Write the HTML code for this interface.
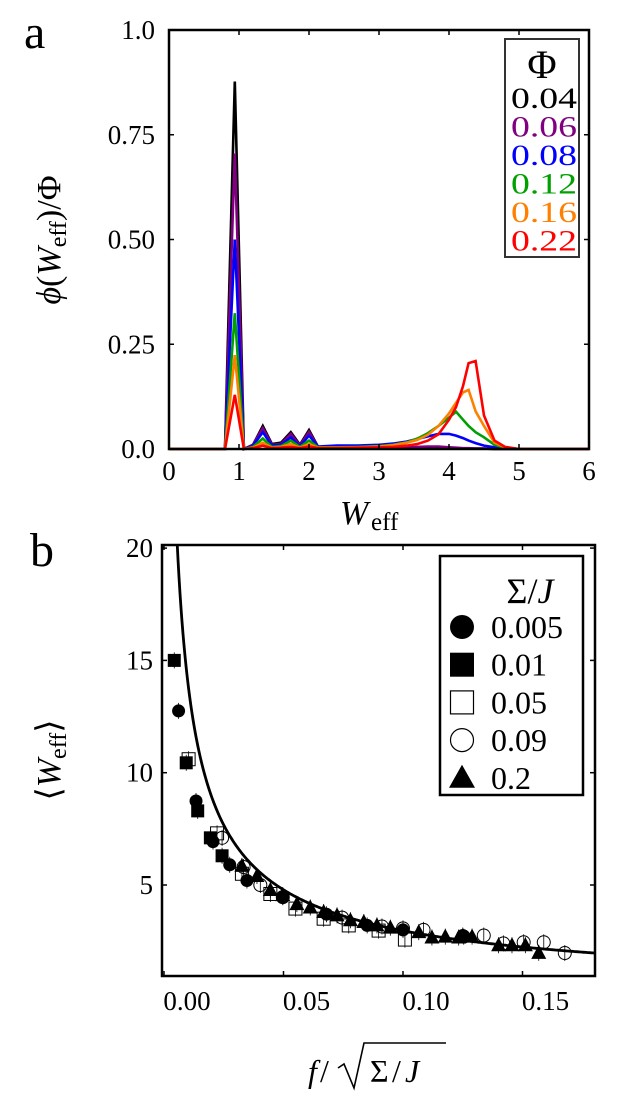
<!DOCTYPE html>
<html><head><meta charset="utf-8"><style>
body{margin:0;background:#fff}
svg text{font-family:"Liberation Serif",serif;fill:#000}
</style></head><body>
<svg id="fig" width="629" height="1101" xmlns="http://www.w3.org/2000/svg">
<text x="24" y="48" font-size="48">a</text>
<text x="30" y="566" font-size="48">b</text>
<g id="pa"></g>
<g id="pb"></g>
</svg>
<script>
// ---- Panel a data ----
const aX = [0,0.8,0.94,1.07,1.2,1.34,1.47,1.6,1.74,1.87,2.0,2.13,2.4,2.7,3.0,3.2,3.4,3.55,3.7,3.85,4.0,4.1,4.2,4.28,4.38,4.5,4.65,4.8,5.0,5.5,6.0];
const aBlack  = [0,0,0.877,0,0.01,0.055,0.012,0.015,0.04,0.01,0.045,0.005,0.003,0.002,0.002,0.002,0.002,0.002,0.002,0.002,0.002,0.002,0.001,0.001,0.001,0.001,0,0,0,0,0];
const aPurple = [0,0,0.705,0,0.01,0.05,0.01,0.012,0.036,0.008,0.041,0.004,0.004,0.003,0.003,0.003,0.004,0.005,0.006,0.006,0.004,0.003,0.002,0.002,0.001,0.001,0,0,0,0,0];
const aBlue   = [0,0,0.50,0,0.008,0.04,0.008,0.01,0.028,0.006,0.032,0.006,0.008,0.008,0.01,0.013,0.018,0.024,0.03,0.036,0.036,0.032,0.026,0.02,0.014,0.008,0.004,0.002,0,0,0];
const aGreen  = [0,0,0.324,0,0.005,0.025,0.005,0.007,0.02,0.005,0.02,0.004,0.004,0.005,0.007,0.01,0.016,0.025,0.038,0.055,0.075,0.089,0.07,0.055,0.04,0.028,0.01,0.003,0,0,0];
const aOrange = [0,0,0.224,0,0.003,0.015,0.003,0.005,0.012,0.003,0.012,0.003,0.003,0.004,0.006,0.009,0.015,0.022,0.034,0.055,0.085,0.11,0.135,0.141,0.09,0.055,0.015,0.004,0,0,0];
const aRed    = [0,0,0.129,0,0.002,0.008,0.002,0.003,0.005,0.002,0.006,0.002,0.002,0.003,0.004,0.005,0.008,0.012,0.02,0.035,0.07,0.1,0.15,0.205,0.21,0.08,0.02,0.005,0,0,0];
const aSeriesNames = ["0.04","0.06","0.08","0.12","0.16","0.22"];
const aXTicks = [0,1,2,3,4,5,6];
const aYTicks = [0,0.25,0.5,0.75,1.0];
const aYTickLabels = ["0.0","0.25","0.50","0.75","1.0"];

// ---- Panel b data ----
const bSq1X = [0.0043,0.0093,0.0141,0.0194,0.0243];
const bSq1Y = [15.0,10.44,8.3,7.1,6.3];
const bCi1X = [0.0061,0.0134,0.0205,0.0275,0.0347,0.0497,0.068,0.085,0.1,0.125];
const bCi1Y = [12.75,8.74,6.93,5.9,5.2,4.46,3.7,3.2,3.0,2.75];
const bSq0X = [0.0103,0.0222,0.0326,0.0445,0.055,0.0668,0.0773,0.0898,0.1008];
const bSq0Y = [10.6,7.3,5.5,4.6,3.95,3.5,3.2,2.97,2.57];
const bCi0X = [0.0243,0.0333,0.0403,0.0497,0.0745,0.0912,0.1,0.1086,0.1254,0.1338,0.142,0.1505,0.1589,0.1677];
const bCi0Y = [7.1,5.8,5.0,4.46,3.55,3.15,3.07,3.0,2.7,2.75,2.4,2.45,2.45,1.97];
const bTriX = [0.0326,0.0389,0.0445,0.0497,0.0556,0.0612,0.0668,0.0724,0.078,0.0836,0.0891,0.0947,0.1066,0.1121,0.1177,0.1233,0.1289,0.14,0.1456,0.1512,0.1568];
const bTriY = [5.85,5.4,4.78,4.55,4.15,4.0,3.8,3.65,3.43,3.35,3.2,3.1,2.9,2.66,2.7,2.66,2.7,2.32,2.32,2.32,1.98];
const bXTicks = [0,0.05,0.10,0.15];
const bXTickLabels = ["0.00","0.05","0.10","0.15"];
const bYTicks = [5,10,15,20];
const bLegendNames = ["0.005","0.01","0.05","0.09","0.2"];

const NS="http://www.w3.org/2000/svg";
function mk(parent,tag,attrs,txt){const e=document.createElementNS(NS,tag);for(const k in attrs)e.setAttribute(k,attrs[k]);if(txt!==undefined)e.textContent=txt;parent.appendChild(e);return e;}

// Panel a
const pa=document.getElementById('pa');
const ax0=169,ax1=589,ay0=449,ay1=30;
const axX=v=>ax0+(v-0)/(6-0)*(ax1-ax0);
const axY=v=>ay0-(v-0)/(1-0)*(ay0-ay1);
const aSeries=[[aBlack,"#000"],[aPurple,"#800080"],[aBlue,"#0000ff"],[aGreen,"#00a000"],[aOrange,"#ff8000"],[aRed,"#ff0000"]];
aSeries.forEach((s,i)=>{
  const p=mk(pa,'polyline',{points:aX.map((x,j)=>axX(x).toFixed(1)+','+axY(s[0][j]).toFixed(1)).join(' '),fill:'none',stroke:s[1],'stroke-width':2.6,'stroke-linejoin':'miter'});
  
  
});
const fa=mk(pa,'rect',{x:ax0,y:ay1,width:ax1-ax0,height:ay0-ay1,fill:'none',stroke:'#000','stroke-width':2.5});

aXTicks.forEach(t=>{
  const x=axX(t);
  mk(pa,'line',{x1:x,y1:ay0,x2:x,y2:ay0-5,stroke:'#000','stroke-width':1.5});
  mk(pa,'line',{x1:x,y1:ay1,x2:x,y2:ay1+5,stroke:'#000','stroke-width':1.5});
  const l=mk(pa,'text',{x:x,y:ay0+31,'font-size':27,'text-anchor':'middle'},String(t));
  
});
aYTicks.forEach((t,i)=>{
  const y=axY(t);
  mk(pa,'line',{x1:ax0,y1:y,x2:ax0+5,y2:y,stroke:'#000','stroke-width':1.5});
  mk(pa,'line',{x1:ax1,y1:y,x2:ax1-5,y2:y,stroke:'#000','stroke-width':1.5});
  const l=mk(pa,'text',{x:155,y:y+9,'font-size':27,'text-anchor':'end'},aYTickLabels[i]);
  
});
let t=mk(pa,'text',{x:340,y:524,'font-size':34,'font-style':'italic'},'W');

mk(pa,'text',{x:371,y:530,'font-size':25},'eff');
t=mk(pa,'text',{x:0,y:0,'font-size':34,transform:'translate(60,240) rotate(-90)','text-anchor':'middle'});

t.innerHTML='<tspan font-style="italic">ϕ</tspan>(<tspan font-style="italic">W</tspan><tspan font-size="24" dy="6">eff</tspan><tspan dy="-6">)/Φ</tspan>';
// legend a
const lga=mk(pa,'g',{});
mk(lga,'rect',{x:505,y:39,width:74,height:218,fill:'#fff',stroke:'#333','stroke-width':2});
mk(lga,'text',{x:542,y:78,'font-size':40,'text-anchor':'middle'},'Φ');
aSeries.forEach((s,i)=>{
  const e=mk(lga,'text',{x:511,y:108+i*28.5,'font-size':30,'textLength':66,'lengthAdjust':'spacingAndGlyphs',fill:s[1],style:'fill:'+s[1]},aSeriesNames[i]);
  
});

// Panel b
const pb=document.getElementById('pb');
const bx0=162,bx1=595,by0=976,by1=545;
const bxX=v=>164+v*2390;
const byY=v=>885-(v-5)*22.46;
const cp=mk(pb,'clipPath',{id:'clipb'});mk(cp,'rect',{x:bx0,y:by1,width:bx1-bx0,height:by0-by1});
// theory curve (analytic)
let pts=[];for(let px=bx0;px<=bx1;px+=1){const x=(px-164)/2390;if(x+0.001<=0)continue;const w=0.596/Math.pow(x+0.001,0.7);pts.push(px+','+byY(w).toFixed(1));}
const cv=mk(pb,'polyline',{points:pts.join(' '),fill:'none',stroke:'#000','stroke-width':2.8,'clip-path':'url(#clipb)'});

function marker(g,type,x,y){
  const cx=bxX(x),cy=byY(y);
  mk(g,'line',{x1:cx,y1:cy-8,x2:cx,y2:cy+8,stroke:'#000','stroke-width':0.8});
  let m;
  if(type==='ci1')m=mk(g,'circle',{cx:cx,cy:cy,r:6.5,fill:'#000'});
  if(type==='ci0')m=mk(g,'circle',{cx:cx,cy:cy,r:6.5,fill:'none',stroke:'#000','stroke-width':1});
  if(type==='sq1')m=mk(g,'rect',{x:cx-6.5,y:cy-6.5,width:13,height:13,fill:'#000'});
  if(type==='sq0')m=mk(g,'rect',{x:cx-6.5,y:cy-6.5,width:13,height:13,fill:'none',stroke:'#000','stroke-width':1});
  if(type==='tri')m=mk(g,'polygon',{points:`${cx},${cy-8} ${cx-7.5},${cy+6} ${cx+7.5},${cy+6}`,fill:'#000'});
  
}
[['sq0',bSq0X,bSq0Y,'0.05'],['ci0',bCi0X,bCi0Y,'0.09'],['sq1',bSq1X,bSq1Y,'0.01'],['ci1',bCi1X,bCi1Y,'0.005'],['tri',bTriX,bTriY,'0.2']].forEach(s=>{
  const g=mk(pb,'g',{});
  
  
  s[1].forEach((x,i)=>marker(g,s[0],x,s[2][i]));
});
const fb=mk(pb,'rect',{x:bx0,y:by1,width:bx1-bx0,height:by0-by1,fill:'none',stroke:'#000','stroke-width':2.5});

bXTicks.forEach((v,i)=>{
  const x=bxX(v);
  mk(pb,'line',{x1:x,y1:by0,x2:x,y2:by0-5,stroke:'#000','stroke-width':1.5});
  mk(pb,'line',{x1:x,y1:by1,x2:x,y2:by1+5,stroke:'#000','stroke-width':1.5});
  const l=mk(pb,'text',{x:x+23,y:1010,'font-size':27,'text-anchor':'middle'},bXTickLabels[i]);
  
});
bYTicks.forEach(v=>{
  const y=byY(v);
  mk(pb,'line',{x1:bx0,y1:y,x2:bx0+5,y2:y,stroke:'#000','stroke-width':1.5});
  mk(pb,'line',{x1:bx1,y1:y,x2:bx1-5,y2:y,stroke:'#000','stroke-width':1.5});
  const l=mk(pb,'text',{x:153,y:y+9,'font-size':27,'text-anchor':'end'},String(v));
  
});
const xt=mk(pb,'g',{});


mk(xt,'text',{x:308,y:1082,'font-size':32,'font-style':'italic'},'f');
mk(xt,'text',{x:320,y:1082,'font-size':32},'/');
mk(xt,'polyline',{points:'338,1068 344,1064 354,1088 364,1043 446,1043',fill:'none',stroke:'#000','stroke-width':1.6});
mk(xt,'text',{x:370,y:1082,'font-size':32},'Σ');
mk(xt,'text',{x:392,y:1082,'font-size':32},'/');
mk(xt,'text',{x:405,y:1082,'font-size':32,'font-style':'italic'},'J');
t=mk(pb,'text',{x:0,y:0,'font-size':34,transform:'translate(60,760) rotate(-90)','text-anchor':'middle'});

t.innerHTML='⟨<tspan font-style="italic">W</tspan><tspan font-size="24" dy="6">eff</tspan><tspan dy="-6">⟩</tspan>';
// legend b
const lgb=mk(pb,'g',{});
mk(lgb,'rect',{x:440,y:556,width:143,height:239,fill:'#fff',stroke:'#000','stroke-width':2.5});
lgb.insertAdjacentHTML('beforeend','<text x="530" y="603" font-size="36" text-anchor="middle">Σ/<tspan font-style="italic">J</tspan></text>');
const lt=['ci1','sq1','sq0','ci0','tri'];
lt.forEach((ty,i)=>{
  const cy=627+i*37.7,cx=462;
  let m;
  if(ty==='ci1')m=mk(lgb,'circle',{cx:cx,cy:cy,r:12,fill:'#000'});
  if(ty==='ci0')m=mk(lgb,'circle',{cx:cx,cy:cy,r:11.5,fill:'none',stroke:'#000','stroke-width':1.2});
  if(ty==='sq1')m=mk(lgb,'rect',{x:cx-12,y:cy-12,width:24,height:24,fill:'#000'});
  if(ty==='sq0')m=mk(lgb,'rect',{x:cx-11.5,y:cy-11.5,width:23,height:23,fill:'none',stroke:'#000','stroke-width':1.2});
  if(ty==='tri')m=mk(lgb,'polygon',{points:`${cx},${cy-13} ${cx-13},${cy+10} ${cx+13},${cy+10}`,fill:'#000'});
  
  const e=mk(lgb,'text',{x:491,y:cy+11,'font-size':32},bLegendNames[i]);
  
});
</script>
</body></html>
